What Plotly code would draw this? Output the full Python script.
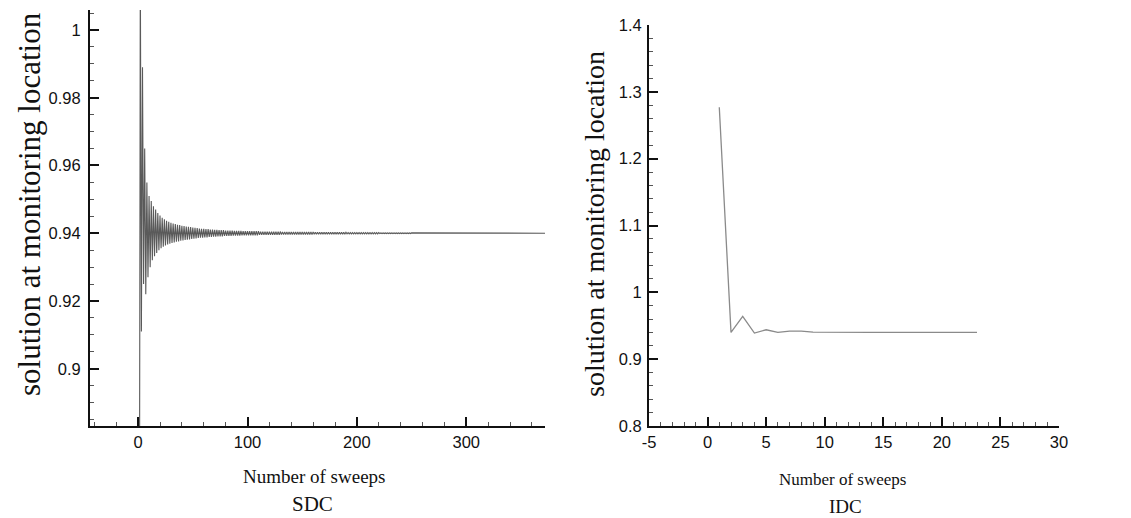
import plotly.graph_objects as go

# ---------------- data ----------------
# SDC: solution at monitoring location per sweep (sweeps 1..250, then flat to the end)
sdc_values = [
    0.8000, 1.0200, 0.9110, 0.9890, 0.9250, 0.9650, 0.9220, 0.9550, 0.9270, 0.9510,
    0.9300, 0.9495, 0.9320, 0.9480, 0.9332, 0.9470, 0.9342, 0.9460, 0.9350, 0.9452,
    0.9356, 0.9446, 0.9360, 0.9441, 0.9364, 0.9437, 0.9367, 0.9434, 0.9369, 0.9431,
    0.9371, 0.9429, 0.9373, 0.9427, 0.9375, 0.9425, 0.9376, 0.9424, 0.9378, 0.9422,
    0.9379, 0.9421, 0.9380, 0.9420, 0.9381, 0.9419, 0.9382, 0.9418, 0.9383, 0.9417,
    0.9384, 0.9416, 0.9385, 0.9415, 0.9386, 0.9414, 0.9387, 0.9413, 0.9387, 0.9413,
    0.9388, 0.9412, 0.9388, 0.9412, 0.9389, 0.9411, 0.9389, 0.9411, 0.9390, 0.9410,
    0.9390, 0.9410, 0.9391, 0.9409, 0.9391, 0.9409, 0.9391, 0.9409, 0.9392, 0.9408,
    0.9392, 0.9408, 0.9392, 0.9408, 0.9392, 0.9408, 0.9393, 0.9407, 0.9393, 0.9407,
    0.9393, 0.9407, 0.9393, 0.9407, 0.9394, 0.9406, 0.9394, 0.9406, 0.9394, 0.9406,
    0.9394, 0.9406, 0.9394, 0.9406, 0.9394, 0.9406, 0.9394, 0.9406, 0.9394, 0.9406,
    0.9395, 0.9405, 0.9395, 0.9405, 0.9395, 0.9405, 0.9395, 0.9405, 0.9395, 0.9405,
    0.9395, 0.9405, 0.9395, 0.9405, 0.9395, 0.9405, 0.9395, 0.9405, 0.9395, 0.9405,
    0.9396, 0.9404, 0.9396, 0.9404, 0.9396, 0.9404, 0.9396, 0.9404, 0.9396, 0.9404,
    0.9396, 0.9404, 0.9396, 0.9404, 0.9396, 0.9404, 0.9396, 0.9404, 0.9396, 0.9404,
    0.9396, 0.9404, 0.9396, 0.9404, 0.9396, 0.9404, 0.9396, 0.9404, 0.9396, 0.9404,
    0.9397, 0.9403, 0.9397, 0.9403, 0.9397, 0.9403, 0.9397, 0.9403, 0.9397, 0.9403,
    0.9397, 0.9403, 0.9397, 0.9403, 0.9397, 0.9403, 0.9397, 0.9403, 0.9397, 0.9403,
    0.9397, 0.9403, 0.9397, 0.9403, 0.9397, 0.9403, 0.9397, 0.9403, 0.9397, 0.9403,
    0.9398, 0.9402, 0.9398, 0.9402, 0.9398, 0.9402, 0.9398, 0.9402, 0.9398, 0.9402,
    0.9398, 0.9402, 0.9398, 0.9402, 0.9398, 0.9402, 0.9398, 0.9402, 0.9398, 0.9402,
    0.9398, 0.9402, 0.9398, 0.9402, 0.9398, 0.9402, 0.9398, 0.9402, 0.9398, 0.9402,
    0.9399, 0.9401, 0.9399, 0.9401, 0.9399, 0.9401, 0.9399, 0.9401, 0.9399, 0.9401,
    0.9399, 0.9401, 0.9399, 0.9401, 0.9399, 0.9401, 0.9399, 0.9401, 0.9399, 0.9401,
    0.9399, 0.9401, 0.9399, 0.9401, 0.9399, 0.9401, 0.9399, 0.9401, 0.9399, 0.9401,
]
sdc_last_sweep = 372
sdc_last_value = 0.9400
sdc_sweeps = list(range(1, len(sdc_values) + 1)) + [sdc_last_sweep]
sdc_series = sdc_values + [sdc_last_value]

# IDC: solution at monitoring location per sweep
idc_sweeps = list(range(1, 24))
idc_values = [1.277, 0.940, 0.964, 0.939, 0.944, 0.940, 0.942, 0.942, 0.9405, 0.9402,
              0.9401, 0.9400, 0.9400, 0.9400, 0.9400, 0.9400, 0.9400, 0.9400, 0.9400,
              0.9400, 0.9400, 0.9400, 0.9400]

# ticks
sdc_xticks = [0, 100, 200, 300]
sdc_xticklabels = ["0", "100", "200", "300"]
sdc_yticks = [0.9, 0.92, 0.94, 0.96, 0.98, 1.0]
sdc_yticklabels = ["0.9", "0.92", "0.94", "0.96", "0.98", "1"]
idc_xticks = [-5, 0, 5, 10, 15, 20, 25, 30]
idc_xticklabels = ["-5", "0", "5", "10", "15", "20", "25", "30"]
idc_yticks = [0.8, 0.9, 1.0, 1.1, 1.2, 1.3, 1.4]
idc_yticklabels = ["0.8", "0.9", "1", "1.1", "1.2", "1.3", "1.4"]

# ---------------- figure ----------------
W, H = 1131, 518


def px_x(p):
    return p / W


def px_y(p):
    return 1 - p / H


fig = go.Figure()
fig.add_trace(go.Scatter(x=sdc_sweeps, y=sdc_series, mode="lines",
                         line=dict(color="#5a5a5a", width=1.1),
                         xaxis="x", yaxis="y", showlegend=False, hoverinfo="skip"))
fig.add_trace(go.Scatter(x=idc_sweeps, y=idc_values, mode="lines",
                         line=dict(color="#8a8a8a", width=1.3),
                         xaxis="x2", yaxis="y2", showlegend=False, hoverinfo="skip"))

tickfont = dict(family="Liberation Sans, Arial, sans-serif", size=16.5, color="#111111")
axis_common = dict(showgrid=False, zeroline=False, showline=True, linecolor="#111111",
                   linewidth=2, ticks="inside", tickcolor="#111111", tickwidth=2,
                   ticklen=9, tickfont=tickfont, mirror=False, fixedrange=True,
                   automargin=False)


def minor(d, t0):
    return dict(dtick=d, tick0=t0, ticks="inside", ticklen=4, tickwidth=1,
                tickcolor="#555555", showgrid=False)


fig.update_layout(
    width=W, height=H,
    margin=dict(l=0, r=0, t=0, b=0, autoexpand=False),
    paper_bgcolor="white", plot_bgcolor="white",
    xaxis=dict(domain=[px_x(90), px_x(545)], range=[-44, 372], anchor="y",
               tickmode="array", tickvals=sdc_xticks, ticktext=sdc_xticklabels,
               minor=minor(20, 0), **axis_common),
    yaxis=dict(domain=[px_y(426), px_y(10)], range=[0.8831, 1.0059], anchor="x",
               tickmode="array", tickvals=sdc_yticks, ticktext=sdc_yticklabels,
               minor=minor(0.005, 0.9), ticklabelstandoff=4, **axis_common),
    xaxis2=dict(domain=[px_x(649), px_x(1059)], range=[-5, 30], anchor="y2",
                tickmode="array", tickvals=idc_xticks, ticktext=idc_xticklabels,
                minor=minor(1, 0), **axis_common),
    yaxis2=dict(domain=[px_y(426), px_y(25)], range=[0.8, 1.4], anchor="x2",
                tickmode="array", tickvals=idc_yticks, ticktext=idc_yticklabels,
                minor=minor(0.02, 0.8), ticklabelstandoff=2, **axis_common),
)

serif = "Liberation Serif, Times New Roman, serif"
ann = [
    dict(text="solution at monitoring location", x=px_x(29), y=px_y(204), size=31, angle=-90),
    dict(text="solution at monitoring location", x=px_x(594), y=px_y(224), size=28, angle=-90),
    dict(text="Number of sweeps", x=px_x(314), y=px_y(476), size=19, angle=0),
    dict(text="SDC", x=px_x(312), y=px_y(504), size=21, angle=0),
    dict(text="Number of sweeps", x=px_x(842), y=px_y(479), size=17, angle=0),
    dict(text="IDC", x=px_x(845), y=px_y(506), size=19, angle=0),
]
for a in ann:
    fig.add_annotation(text=a["text"], x=a["x"], y=a["y"], xref="paper", yref="paper",
                       xanchor="center", yanchor="middle", showarrow=False,
                       textangle=a["angle"],
                       font=dict(family=serif, size=a["size"], color="#111111"))

fig.write_html(
    "out.html",
    config={"displayModeBar": False},
    post_script="document.body.style.margin='0';document.body.style.overflow='hidden';",
)
